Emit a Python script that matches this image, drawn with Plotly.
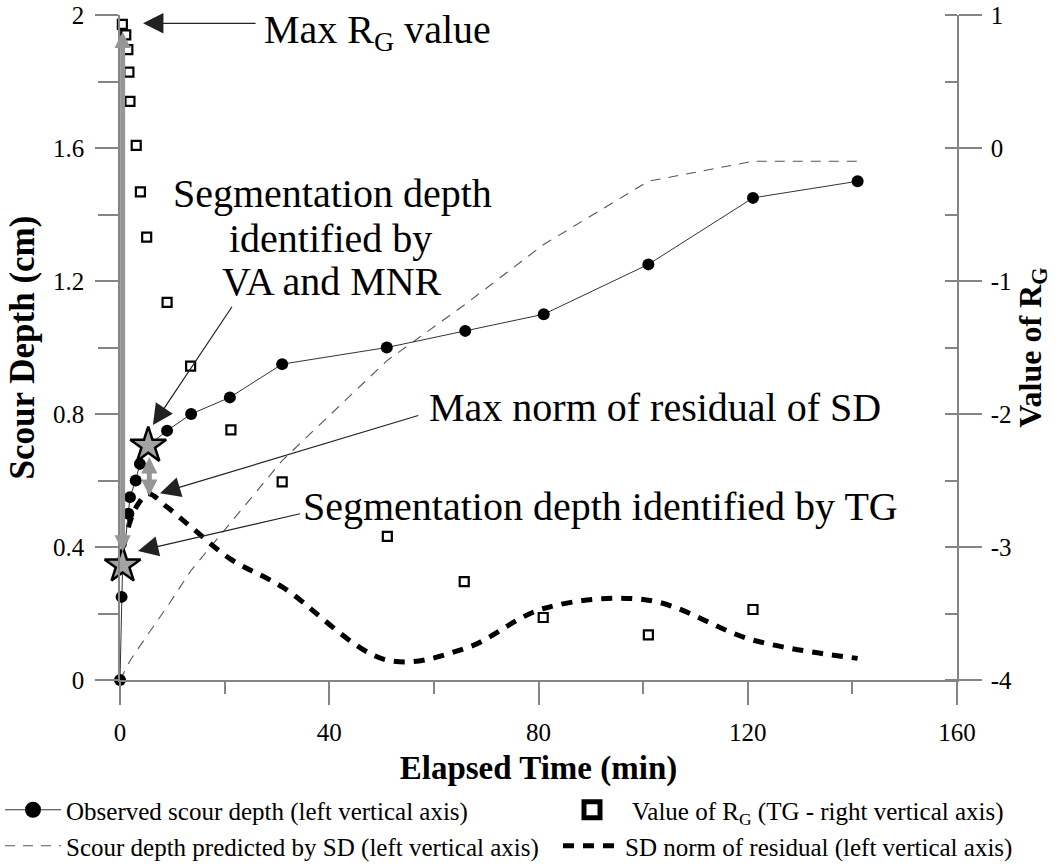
import plotly.graph_objects as go

FONT = "Liberation Serif"

# ---------------- data ----------------
# Observed scour depth (left axis, cm) vs elapsed time (min)
obs_time = [0, 0.3, 0.5, 1.6, 1.9, 3.0, 3.8, 5.4, 9.0, 13.6, 21.0, 31.0, 51.0, 66.0, 81.0, 101.0, 121.0, 141.0]
obs_depth = [0, 0.25, 0.345, 0.50, 0.55, 0.60, 0.65, 0.705, 0.75, 0.80, 0.85, 0.95, 1.00, 1.05, 1.10, 1.25, 1.45, 1.50]

# Scour depth predicted by SD (left axis)
pred_time = [0, 2, 5, 9, 13.6, 21, 31, 51, 66, 81, 101, 121, 141]
pred_depth = [0, 0.06, 0.13, 0.22, 0.33, 0.47, 0.66, 0.96, 1.13, 1.31, 1.50, 1.56, 1.56]

# SD norm of residual (left axis)
res_time = [0.7, 2, 3.5, 5.4, 9, 13.6, 21, 31, 51, 66, 81, 101, 121, 141]
res_norm = [0.40, 0.48, 0.53, 0.56, 0.52, 0.46, 0.365, 0.28, 0.06, 0.095, 0.215, 0.24, 0.12, 0.065]

# Value of R_G (TG, right axis)
rg_time = [0.45, 1.1, 1.5, 1.7, 1.9, 3.1, 3.9, 5.1, 9.0, 13.5, 21.2, 31.0, 51.1, 65.8, 80.9, 101.0, 121.0]
rg_value = [0.93, 0.85, 0.74, 0.57, 0.35, 0.02, -0.33, -0.67, -1.16, -1.64, -2.12, -2.51, -2.92, -3.26, -3.53, -3.66, -3.47]

# Segmentation depths (stars): TG, VA & MNR
seg_time = [0.5, 5.4]
seg_depth = [0.345, 0.705]

# Gray double arrows: (time, low depth, high depth)
maxrg_arrow = [0.5, 0.382, 1.95]
resid_arrow = [5.6, 0.55, 0.67]

# Right-axis tick labels
rg_ticks = [-4, -3, -2, -1, 0, 1]
rg_ticktext = ["-4", "-3", "-2", "-1", "0", "1"]

# Callout arrows: (tip time, tip depth, tail time, tail depth)
callout_maxrg = [4.4, 1.975, 26.2, 1.975]
callout_vamnr = [6.3, 0.767, 21.6, 1.127]
callout_maxres = [7.65, 0.562, 57.3, 0.797]
callout_tg = [3.44, 0.388, 34.7, 0.501]

# ---------------- figure ----------------
fig = go.Figure()

fig.add_trace(go.Scatter(
    x=pred_time, y=pred_depth, mode="lines",
    line=dict(color="#555555", width=1.1, dash="10px,8px"),
    name="Scour depth predicted by SD (left vertical axis)",
    legend="legend3", cliponaxis=False))

fig.add_trace(go.Scatter(
    x=res_time, y=res_norm, mode="lines",
    line=dict(color="black", width=5, dash="11px,9px", shape="spline", smoothing=1.0),
    name="SD norm of residual (left vertical axis)",
    legend="legend4", cliponaxis=False))

fig.add_trace(go.Scatter(
    x=obs_time, y=obs_depth, mode="lines+markers",
    line=dict(color="#333333", width=1),
    marker=dict(color="black", size=12),
    name="Observed scour depth (left vertical axis)",
    showlegend=False, cliponaxis=False))
# legend-only entry (bigger symbol like the reference legend)
fig.add_trace(go.Scatter(
    x=[None], y=[None], mode="lines+markers",
    line=dict(color="#333333", width=1),
    marker=dict(color="black", size=16),
    name="Observed scour depth (left vertical axis)",
    legend="legend"))

fig.add_trace(go.Scatter(
    x=seg_time, y=seg_depth, mode="markers",
    marker=dict(symbol="star", size=27, color="#a3a3a3", line=dict(color="black", width=2.5)),
    showlegend=False, cliponaxis=False))

fig.add_trace(go.Scatter(
    x=rg_time, y=rg_value, mode="markers", yaxis="y2",
    marker=dict(symbol="square", size=9, color="white", line=dict(color="black", width=2.2)),
    name="Value of R<sub>G</sub> (TG - right vertical axis)",
    showlegend=False, cliponaxis=False))
fig.add_trace(go.Scatter(
    x=[None], y=[None], mode="markers", yaxis="y2",
    marker=dict(symbol="square", size=16, color="white", line=dict(color="black", width=5)),
    name="Value of R<sub>G</sub> (TG - right vertical axis)",
    legend="legend2"))

annotations = []
# gray double-headed arrows
for t, lo, hi in [maxrg_arrow, resid_arrow]:
    annotations.append(dict(
        x=t, y=hi, ax=t, ay=lo, xref="x", yref="y", axref="x", ayref="y",
        text="", showarrow=True, arrowside="end+start",
        arrowhead=2, startarrowhead=2, arrowsize=0.65, startarrowsize=0.65,
        arrowwidth=5, arrowcolor="#969696", standoff=0, startstandoff=0))
# black callout arrows
for tx, ty, sx, sy in [callout_maxrg, callout_vamnr, callout_maxres, callout_tg]:
    annotations.append(dict(
        x=tx, y=ty, ax=sx, ay=sy, xref="x", yref="y", axref="x", ayref="y",
        text="", showarrow=True, arrowhead=2, arrowsize=3.4, arrowwidth=1.2,
        arrowcolor="#222222", standoff=0))

tfont = dict(family=FONT, size=40, color="black")
annotations += [
    dict(x=27.15, y=1.948, xref="x", yref="y", xanchor="left", yanchor="middle",
         text="Max R<sub>G</sub> value", showarrow=False, font=tfont),
    dict(x=40.7, y=1.464, xref="x", yref="y", xanchor="center", yanchor="middle",
         text="Segmentation depth", showarrow=False, font=tfont),
    dict(x=40.2, y=1.329, xref="x", yref="y", xanchor="center", yanchor="middle",
         text="identified by", showarrow=False, font=tfont),
    dict(x=40.5, y=1.200, xref="x", yref="y", xanchor="center", yanchor="middle",
         text="VA and MNR", showarrow=False, font=tfont),
    dict(x=58.7, y=0.819, xref="x", yref="y", xanchor="left", yanchor="middle",
         text="Max norm of residual of SD", showarrow=False, font=tfont),
    dict(x=34.6, y=0.523, xref="x", yref="y", xanchor="left", yanchor="middle",
         text="Segmentation depth identified by TG", showarrow=False, font=tfont),
]

axis_gray = "#858585"
tickfont = dict(family=FONT, size=25, color="black")

W, H = 1060, 866
leg_common = dict(orientation="h", bgcolor="rgba(0,0,0,0)", borderwidth=0,
                  font=dict(family=FONT, size=25, color="black"),
                  xref="container", yref="container",
                  yanchor="middle", xanchor="left")

fig.update_layout(
    width=W, height=H,
    margin=dict(l=120, r=103, t=15, b=186, autoexpand=False),
    paper_bgcolor="white", plot_bgcolor="white",
    font=dict(family=FONT, color="black"),
    annotations=annotations,
    xaxis=dict(
        range=[0, 160], tick0=0, dtick=40, showgrid=False, zeroline=False,
        automargin=False,
        showline=True, linecolor=axis_gray, linewidth=1.5,
        ticks="outside", ticklen=23, tickwidth=1.5, tickcolor=axis_gray,
        tickfont=tickfont, ticklabelstandoff=6,
        minor=dict(dtick=20, tick0=0, ticks="outside", ticklen=12, tickwidth=1.5,
                   tickcolor=axis_gray, showgrid=False),
        title=dict(text="<b>Elapsed Time (min)</b>", font=dict(family=FONT, size=33), standoff=20),
    ),
    yaxis=dict(
        range=[0, 2], tick0=0, dtick=0.4, showgrid=False, zeroline=False,
        automargin=False,
        showline=True, linecolor=axis_gray, linewidth=1.5,
        ticks="outside", ticklen=23, tickwidth=1.5, tickcolor=axis_gray,
        tickfont=tickfont, ticklabelstandoff=6,
        minor=dict(dtick=0.2, tick0=0, ticks="outside", ticklen=20, tickwidth=1.5,
                   tickcolor=axis_gray, showgrid=False),
        title=dict(text="<b>Scour Depth (cm)</b>", font=dict(family=FONT, size=35), standoff=8),
    ),
    yaxis2=dict(
        range=[-4, 1], overlaying="y", side="right", anchor="x",
        automargin=False,
        tickmode="array", tickvals=rg_ticks, ticktext=rg_ticktext,
        showgrid=False, zeroline=False,
        showline=True, linecolor=axis_gray, linewidth=1.5,
        ticks="outside", ticklen=23, tickwidth=1.5, tickcolor=axis_gray,
        tickfont=tickfont, ticklabelstandoff=4,
        minor=dict(dtick=0.5, tick0=0, ticks="inside", ticklen=12, tickwidth=1.5,
                   tickcolor=axis_gray, showgrid=False),
        title=dict(text="<b>Value of R<sub>G</sub></b>", font=dict(family=FONT, size=32), standoff=0),
    ),
    legend=dict(leg_common, x=0 / W, y=1 - 810 / H, itemwidth=56),
    legend2=dict(leg_common, x=552 / W, y=1 - 810 / H, itemwidth=70),
    legend3=dict(leg_common, x=0 / W, y=1 - 846 / H, itemwidth=56),
    legend4=dict(leg_common, x=558 / W, y=1 - 846 / H, itemwidth=57),
)

fig.write_html("out.html")
